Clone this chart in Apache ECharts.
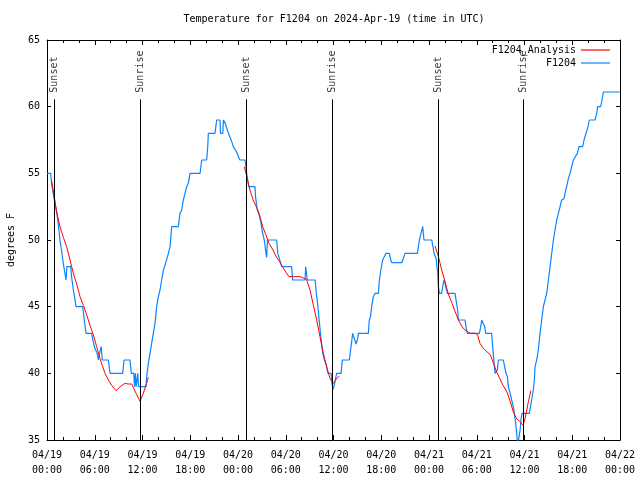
<!DOCTYPE html>
<html>
<head>
<meta charset="utf-8">
<script src="https://cdn.jsdelivr.net/npm/echarts@6/dist/echarts.min.js"></script>
<style>html,body{margin:0;padding:0;background:#fff;}#c{width:640px;height:480px;}</style>
</head>
<body>
<div id="c"></div>
<script>
// hours since 2024-04-19 00:00 UTC
var xTickLabels = ['04/19\n00:00','04/19\n06:00','04/19\n12:00','04/19\n18:00','04/20\n00:00','04/20\n06:00','04/20\n12:00','04/20\n18:00','04/21\n00:00','04/21\n06:00','04/21\n12:00','04/21\n18:00','04/22\n00:00'];
var sunEventHours = [0.9, 11.69, 25.0, 35.83, 49.16, 59.85];
var sunEventNames = ['Sunset','Sunrise','Sunset','Sunrise','Sunset','Sunrise'];

var f1204 = [
 [0,55],[0.46,55],[0.58,54.25],[0.8,53.4],[1.0,52.75],[1.25,52],[1.45,51],[1.63,50],[1.85,49.1],[2.05,48.25],[2.25,47.5],[2.39,47],[2.5,48],[2.97,48],[3.1,47.2],[3.31,46.25],[3.5,45.6],[3.64,45],[4.48,45],[4.65,44.2],[4.9,43],[5.61,43],[5.8,42.4],[6.0,41.9],[6.3,41.5],[6.45,41],[6.6,41.5],[6.8,42],[6.95,41],[7.71,41],[7.92,40],[9.51,40],[9.68,41],[10.43,41],[10.6,40],[10.9,40],[11.0,39],[11.1,40],[11.2,39],[11.4,40],[11.5,39],[11.69,39],[12.44,39],
 [12.52,39.75],[12.73,40.75],[12.94,41.5],[13.15,42.25],[13.36,43],[13.57,43.75],[13.78,45],[13.99,45.75],[14.2,46.25],[14.41,47],[14.62,47.75],[14.83,48.1],[15.04,48.2],[15.25,49],[15.46,49.5],[15.67,51],[16.5,51],[16.71,52],[16.92,52.25],[17.13,53],[17.34,53.5],[17.55,54],[17.76,54.25],[17.97,55],[19.23,55],[19.44,56],[20.06,56],[20.2,57],[20.27,58],[21.11,58],[21.32,59],[21.74,59],[21.8,58],[22.1,58],[22.16,59],[22.3,59],[22.4,58.75],[22.58,58.4],[22.8,58],[23.0,57.9],[23.2,57.4],[23.41,57],[23.6,56.9],[23.83,56.6],[24.05,56.25],[24.25,56],[24.88,56],[25.0,55.5],[25.09,55],[25.3,55],[25.35,54],[26.14,54],[26.2,53.25],[26.43,52.25],[26.6,52],[26.85,51.4],[27.1,50.5],[27.3,50],[27.52,49],[27.6,48.7],[27.7,50],[28.86,50],[29.0,49],[29.2,48.6],[29.49,48],[30.74,48],[30.87,47],[32.42,47],[32.5,48],[32.6,48],[32.71,47],[33.7,47],[33.8,46.25],[34.0,45.25],[34.2,44],[34.4,42.75],[34.65,41.5],[34.86,41],[35.1,40.6],[35.3,40],[35.7,40],[35.8,39.25],[35.95,38.8],[36.1,38.8],[36.2,39.4],[36.4,40],[36.95,40],[37.11,41],[37.99,41],[38.2,42],[38.41,43],[38.6,43],[38.83,42.2],[39.0,42.5],[39.12,43],[40.38,43],[40.5,44],[40.65,44.25],[40.8,45],[41.0,45.75],[41.22,46],[41.64,46],[41.76,47],[41.95,47.75],[42.18,48.5],[42.6,49],[43.02,49],[43.2,48.5],[43.31,48.3],[44.57,48.3],[44.7,48.5],[44.99,49],[46.54,49],[46.79,50],[47.0,50.5],[47.21,51],[47.37,50],[48.34,50],[48.5,49.5],[48.63,49],[48.9,48.6],[49.0,48],[49.1,47.5],[49.18,46.5],[49.3,46],[49.59,46],[49.75,46.6],[49.89,47],[50.0,46.8],[50.1,46.5],[50.31,46],[51.27,46],[51.45,45.3],[51.6,44.75],[51.69,44],[52.53,44],[52.7,43.3],[52.82,43],[54.33,43],[54.5,43.5],[54.62,44],[54.83,44],[55.0,43.5],[55.12,43],[55.87,43],[56.0,42],[56.15,41],[56.3,40],[56.59,40.25],[56.72,41],[57.34,41],[57.5,40.5],[57.68,40],[57.85,39.75],[57.97,39],[58.2,38.5],[58.39,38],[58.6,37.5],[58.72,37],[58.9,36.25],[59.02,35.5],[59.15,34.6],[59.3,34.6],[59.45,35.75],[59.55,36.5],[59.69,37],[60.61,37],[60.75,37.5],[60.9,38],[61.11,38.75],[61.24,39.5],[61.32,40.5],[61.53,41],[61.74,41.75],[61.95,43],[62.16,44],[62.37,45],[62.62,45],[62.79,46],[63.0,47],[63.21,48],[63.42,49],[63.63,50],[63.84,50.75],[64.05,51.5],[64.26,52],[64.47,52.5],[64.67,53],[64.97,53.1],[65.18,53.75],[65.3,54],[65.51,54.6],[65.72,55],[65.93,55.5],[66.14,56],[66.35,56.1],[66.64,56.5],[66.85,57],[67.31,57],[67.48,57.5],[67.73,58],[67.94,58.4],[68.15,59],[68.86,59],[69.07,59.5],[69.19,60],[69.57,60],[69.74,60.5],[69.91,61.1],[72,61.1]
];

var f1204AnalysisNight1 = [[0.59,54.4],[0.9,53.3],[1.21,52.1],[1.63,51],[2.05,50.2],[2.47,49.5],[2.89,48.5],[3.31,47.5],[3.73,46.7],[4.15,45.75],[4.57,45.1],[4.98,44.4],[5.4,43.6],[5.82,42.9],[6.24,42],[6.66,41.1],[7.0,40.5],[7.29,40],[7.71,39.5],[8.13,39.1],[8.67,38.7],[9.2,39],[9.8,39.25],[10.2,39.2],[10.64,39.2],[11.27,38.4],[11.69,37.9],[12.1,38.5],[12.52,39.25],[12.73,39.7]];
var f1204AnalysisNight2 = [[24.8,55.5],[25.1,54.75],[25.5,53.75],[25.9,53],[26.3,52.5],[26.7,51.9],[27.1,51],[27.5,50.4],[27.9,49.75],[28.4,49.25],[28.8,48.75],[29.2,48.4],[29.6,48],[30.0,47.6],[30.4,47.25],[30.95,47.25],[31.8,47.25],[32.6,47.05],[33.05,46.25],[33.47,45.1],[33.89,44],[34.3,42.75],[34.72,41.5],[35.14,40.5],[35.56,39.6],[35.98,39.25],[36.4,39.6],[36.73,39.8]];
var f1204AnalysisNight3 = [[48.76,49.55],[49.18,48.75],[49.6,47.75],[50.0,46.9],[50.4,46],[50.9,45.25],[51.3,44.6],[51.7,44],[52.1,43.55],[52.5,43.25],[53.2,43],[53.8,43],[54.1,42.9],[54.4,42.25],[54.8,41.9],[55.3,41.6],[55.7,41.4],[56.1,40.75],[56.5,40.1],[56.9,39.6],[57.3,39.1],[57.8,38.6],[58.2,37.9],[58.6,37.1],[59.0,36.6],[59.4,36.4],[59.8,36.1],[60.06,36.6],[60.5,37.9],[60.8,38.7]];

var f1204Analysis = f1204AnalysisNight1.concat([[null,null]], f1204AnalysisNight2, [[null,null]], f1204AnalysisNight3);

var FONT = 'DejaVu Sans Mono';
var chart = echarts.init(document.getElementById('c'), null, {renderer:'canvas'});
var sunData = sunEventHours.map(function(h,i){ return {value:[h, 61.05], name: sunEventNames[i]}; });
var sunLines = sunEventHours.map(function(h){ return [{coord:[h,35]},{coord:[h,60.55]}]; });

chart.setOption({
  animation: false,
  backgroundColor: '#ffffff',
  title: {
    text: 'Temperature for F1204 on 2024-Apr-19 (time in UTC)',
    left: 334, top: 14, textAlign: 'center', padding: 0,
    textStyle: {fontFamily: FONT, fontSize: 10, fontWeight: 'normal', color: '#000'}
  },
  legend: {
    data: ['F1204_Analysis', 'F1204'],
    orient: 'vertical', align: 'right',
    right: 30, top: 44, padding: 0,
    icon: 'rect',
    itemWidth: 29, itemHeight: 1.2, itemGap: 1,
    textStyle: {fontFamily: FONT, fontSize: 10, color: '#000', lineHeight: 12},
    selectedMode: false
  },
  grid: {left: 47, right: 20, top: 40, bottom: 40, containLabel: false, outerBoundsMode: 'none'},
  xAxis: [{
    type: 'value', min: 0, max: 72, interval: 6,
    axisLine: {show: true, onZero: false, lineStyle: {color: '#000', width: 1}},
    axisTick: {show: true, inside: true, length: 5, lineStyle: {color: '#000'}},
    minorTick: {show: true, splitNumber: 3, length: 3, lineStyle: {color: '#000'}},
    splitLine: {show: false},
    axisLabel: {
      fontFamily: FONT, fontSize: 10, color: '#000', margin: 8, lineHeight: 15,
      formatter: function(v){ return xTickLabels[Math.round(v/6)]; }
    }
  },{
    type: 'value', position: 'top', min: 0, max: 72, interval: 6,
    axisLine: {show: true, onZero: false, lineStyle: {color: '#000', width: 1}},
    axisTick: {show: true, inside: true, length: 5, lineStyle: {color: '#000'}},
    minorTick: {show: true, splitNumber: 3, length: 3, lineStyle: {color: '#000'}},
    splitLine: {show: false}, axisLabel: {show: false}
  }],
  yAxis: [{
    type: 'value', min: 35, max: 65, interval: 5,
    name: 'degrees F', nameLocation: 'middle', nameRotate: 90, nameGap: 31,
    nameTextStyle: {fontFamily: FONT, fontSize: 10, color: '#000'},
    axisLine: {show: true, onZero: false, lineStyle: {color: '#000', width: 1}},
    axisTick: {show: true, inside: true, length: 4, lineStyle: {color: '#000'}},
    splitLine: {show: false},
    axisLabel: {fontFamily: FONT, fontSize: 10, color: '#000', margin: 7}
  },{
    type: 'value', position: 'right', min: 35, max: 65, interval: 5,
    axisLine: {show: true, onZero: false, lineStyle: {color: '#000', width: 1}},
    axisTick: {show: true, inside: true, length: 4, lineStyle: {color: '#000'}},
    splitLine: {show: false}, axisLabel: {show: false}
  }],
  series: [{
    name: 'F1204_Analysis', type: 'line', data: f1204Analysis,
    showSymbol: false, symbol: 'none', connectNulls: false, z: 4,
    color: '#ff0000', lineStyle: {color: '#ff0000', width: 1}
  },{
    name: 'F1204', type: 'line', data: f1204,
    showSymbol: false, symbol: 'none', z: 3,
    color: '#0a84ff', lineStyle: {color: '#0a84ff', width: 1.2}
  },{
    name: 'sun', type: 'scatter', data: sunData, symbolSize: 0, silent: true, z: 5,
    label: {show: true, formatter: '{b}', position: 'inside', rotate: 90, align: 'left', verticalAlign: 'middle',
      fontFamily: FONT, fontSize: 10, color: '#000'},
    markLine: {symbol: 'none', silent: true, label: {show: false},
      lineStyle: {color: '#000', type: 'solid', width: 1}, data: sunLines}
  }]
});
</script>
</body>
</html>
